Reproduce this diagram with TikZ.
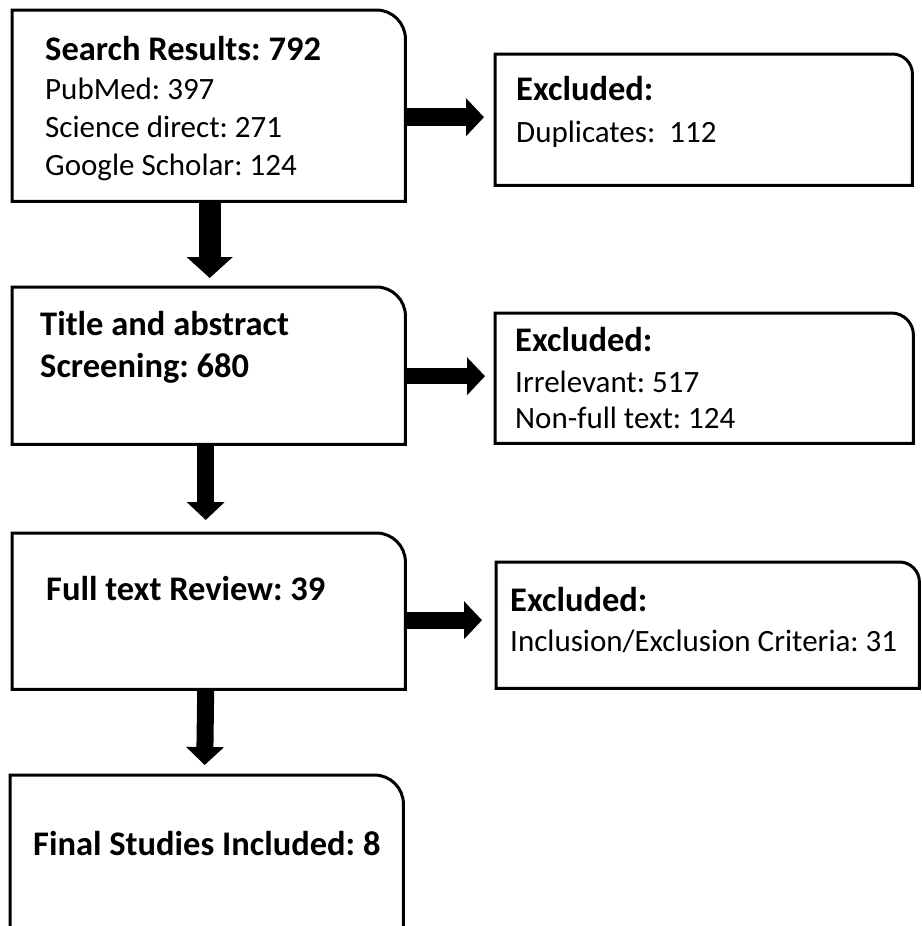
\documentclass[tikz,border=0pt]{standalone}
\usepackage{fontspec}
\setmainfont{Carlito}
\usetikzlibrary{arrows.meta}
\frenchspacing
\tikzset{
  boxnode/.style={rectangle, draw=none, inner sep=0pt, anchor=north west},
  boxline/.style={line width=3pt, line join=miter},
  txt/.style={anchor=base west, inner sep=0pt, font=\fontsize{31}{36}\selectfont},
  btxt/.style={anchor=base west, inner sep=0pt, font=\fontsize{34.5}{36}\selectfont\bfseries},
  bigarrow/.style={line width=22pt, -{Triangle[length=21pt,width=45pt]}},
  midarrow/.style={line width=17pt, -{Triangle[length=18pt,width=37pt]}},
}
\begin{document}
\begin{tikzpicture}[x=1pt,y=1pt]
\clip (0,0) rectangle (921,-926);
\fill[white] (0,0) rectangle (921,-926);
% boxes (pixel coordinates, y downwards as negative)
\node[boxnode, minimum width=393pt, minimum height=191pt] (b1) at (12,-10) {};
\node[boxnode, minimum width=417pt, minimum height=131pt] (e1) at (495,-54) {};
\node[boxnode, minimum width=393pt, minimum height=157pt] (b2) at (12,-287) {};
\node[boxnode, minimum width=418pt, minimum height=130pt] (e2) at (495,-313) {};
\node[boxnode, minimum width=393pt, minimum height=156pt] (b3) at (12,-533) {};
\node[boxnode, minimum width=423pt, minimum height=126pt] (e3) at (496,-562) {};
\node[boxnode, minimum width=393pt, minimum height=165pt] (b4) at (10,-775) {};
% outlines: only the top right corner is rounded
\foreach \n/\r in {b1/29,b2/29,b3/29,b4/29,e1/20,e2/22,e3/20}{
  \draw[boxline] (\n.south west) -- (\n.north west) -- ([xshift=-\r pt]\n.north east)
     arc[start angle=90, end angle=0, radius=\r pt] -- (\n.south east) -- cycle;
}
% texts
\node[btxt] (t1) at (45,-60) {Search Results: 792};
\node[txt] (t1a) at (45,-99) {PubMed: 397};
\node[txt] (t1b) at (45,-137) {Science direct: 271};
\node[txt] (t1c) at (45,-175) {Google Scholar: 124};
\node[btxt] (x1) at (516,-100) {Excluded:};
\node[txt] (x1a) at (516,-142) {Duplicates:\ \ 112};
\node[btxt] (t2) at (40,-335) {Title and abstract};
\node[btxt] (t2a) at (40,-377) {Screening: 680};
\node[btxt] (x2) at (515,-351) {Excluded:};
\node[txt] (x2a) at (515,-392) {Irrelevant: 517};
\node[txt] (x2b) at (515,-428) {Non-full text: 124};
\node[btxt] (t3) at (46,-600) {Full text Review: 39};
\node[btxt] (x3) at (510,-611) {Excluded:};
\node[txt] (x3a) at (510,-651) {Inclusion/Exclusion Criteria: 31};
\node[btxt] (t4) at (33,-855) {Final Studies Included: 8};
% connectors
\draw[bigarrow] ([xshift=1pt]b1.south) -- ([xshift=1pt,yshift=9pt]b2.north);
\draw[midarrow] ([xshift=-3pt]b2.south) -- ([xshift=-3pt,yshift=13pt]b3.north);
\draw[midarrow] ([xshift=-3pt]b3.south) -- ([xshift=-2pt,yshift=10pt]b4.north);
\draw[midarrow, line width=18pt] ([yshift=2.5pt]e1.west -| b1.east) -- ([xshift=-11pt,yshift=2.5pt]e1.west);
\draw[midarrow, line width=16pt] ([yshift=2pt]e2.west -| b2.east) -- ([xshift=-10pt,yshift=2pt]e2.west);
\draw[midarrow] ([yshift=5pt]e3.west -| b3.east) -- ([xshift=-14pt,yshift=5pt]e3.west);
\end{tikzpicture}
\end{document}
